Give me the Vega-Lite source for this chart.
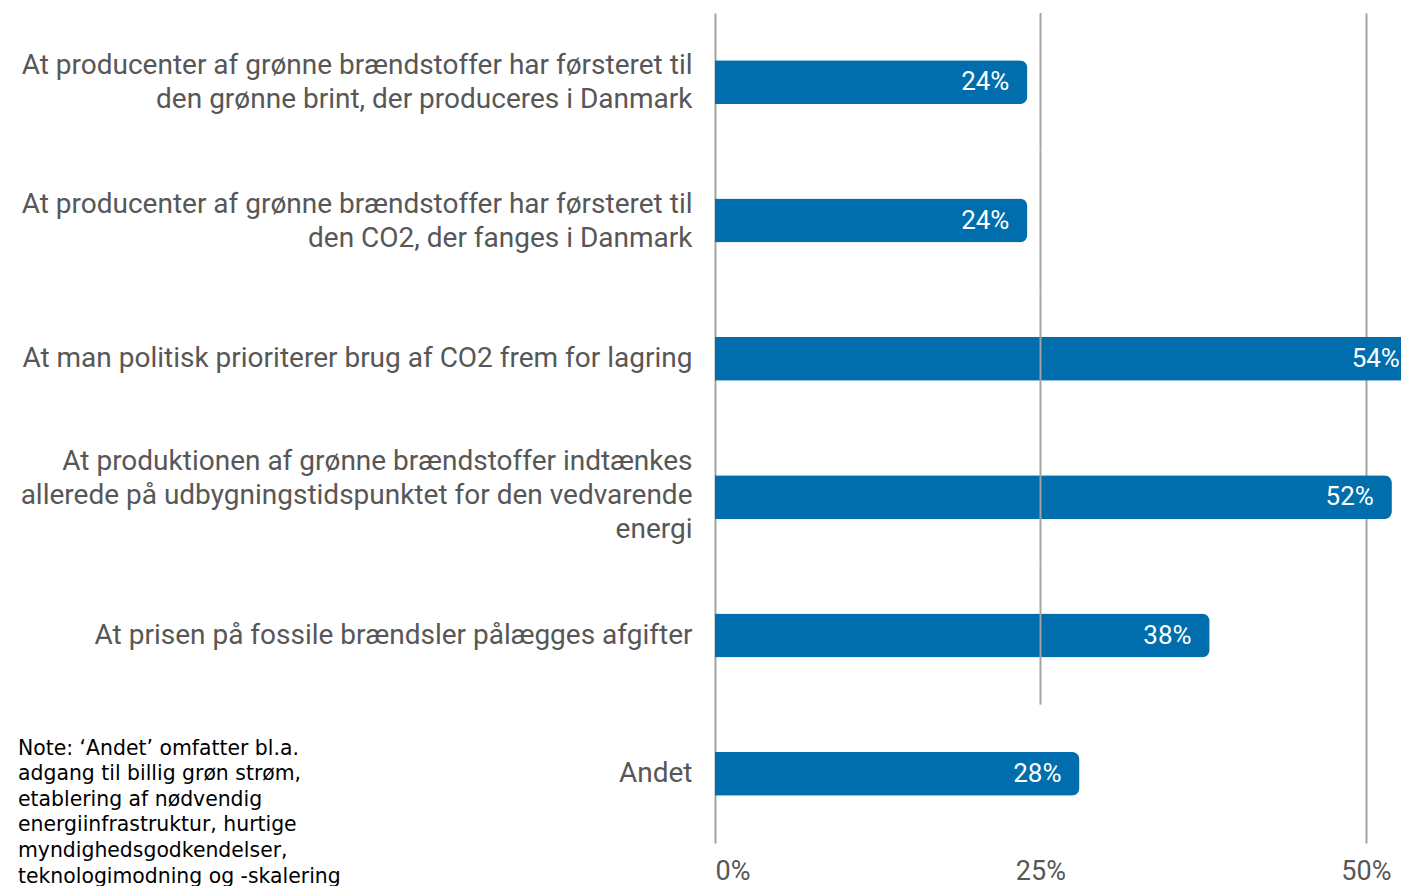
{
  "$schema": "https://vega.github.io/schema/vega-lite/v6.json",
  "autosize": {"type": "none"},
  "width": 686,
  "height": 830,
  "padding": {"left": 715, "top": 13, "right": 0, "bottom": 43},
  "background": "white",
  "config": {"view": {"stroke": null}},
  "title": {
    "text": ["Note: ‘Andet’ omfatter bl.a.", "adgang til billig grøn strøm,", "etablering af nødvendig", "energiinfrastruktur, hurtige", "myndighedsgodkendelser,", "teknologimodning og -skalering"],
    "orient": "top",
    "anchor": "start",
    "frame": "group",
    "baseline": "top",
    "align": "left",
    "offset": 0,
    "dx": -697,
    "dy": 874,
    "font": "DejaVu Sans",
    "fontSize": 20.4,
    "fontWeight": "normal",
    "color": "#000000",
    "lineHeight": 25.6
  },
  "data": {
    "values": [
      {"label": "At producenter af grønne brændstoffer har førsteret til|den grønne brint, der produceres i Danmark", "value": 0.24},
      {"label": "At producenter af grønne brændstoffer har førsteret til|den CO2, der fanges i Danmark", "value": 0.24},
      {"label": "At man politisk prioriterer brug af CO2 frem for lagring", "value": 0.54},
      {"label": "At produktionen af grønne brændstoffer indtænkes|allerede på udbygningstidspunktet for den vedvarende|energi", "value": 0.52},
      {"label": "At prisen på fossile brændsler pålægges afgifter", "value": 0.38},
      {"label": "Andet", "value": 0.28}
    ]
  },
  "encoding": {
    "y": {
      "field": "label",
      "type": "nominal",
      "sort": null,
      "scale": {"paddingInner": 0, "paddingOuter": 0},
      "axis": {
        "title": null,
        "domain": false,
        "ticks": false,
        "labelExpr": "split(datum.label, '|')",
        "labelFont": "Roboto",
        "labelFontSize": 28,
        "labelColor": "#575757",
        "labelPadding": 23,
        "labelLimit": 720,
        "labelLineHeight": 34,
        "labelAlign": "right",
        "labelBaseline": "middle",
        "labelOffset": {
          "condition": [
            {"test": "length(split(datum.value, '|')) === 2", "value": -16},
            {"test": "length(split(datum.value, '|')) === 3", "value": -35}
          ],
          "value": 0
        }
      }
    }
  },
  "layer": [
    {
      "mark": {"type": "bar", "color": "#006DAD", "height": 44, "cornerRadiusEnd": 8},
      "encoding": {
        "x": {
          "field": "value",
          "type": "quantitative",
          "scale": {"domain": [0, 0.527], "nice": false, "zero": true},
          "axis": {
            "title": null,
            "values": [0, 0.25, 0.5],
            "format": ".0%",
            "domain": false,
            "ticks": false,
            "grid": true,
            "gridColor": "#a3a3a3",
            "gridWidth": 2,
            "gridOpacity": {"condition": {"test": "datum.value === 0.25", "value": 0}, "value": 1},
            "labelFont": "Roboto",
            "labelFontSize": 27,
            "labelColor": "#575757",
            "labelPadding": 15,
            "labelFlush": true
          }
        }
      }
    },
    {
      "transform": [{"filter": "datum.label !== 'Andet'"}],
      "mark": {"type": "bar", "color": "#a3a3a3", "height": {"band": 1}},
      "encoding": {
        "x": {"datum": 0.2493, "type": "quantitative"},
        "x2": {"datum": 0.2508}
      }
    },
    {
      "mark": {"type": "text", "align": "right", "baseline": "middle", "dx": -18, "font": "Roboto", "fontSize": 26, "color": "white"},
      "encoding": {
        "x": {"field": "value", "type": "quantitative"},
        "text": {"field": "value", "type": "quantitative", "format": ".0%"}
      }
    }
  ]
}
